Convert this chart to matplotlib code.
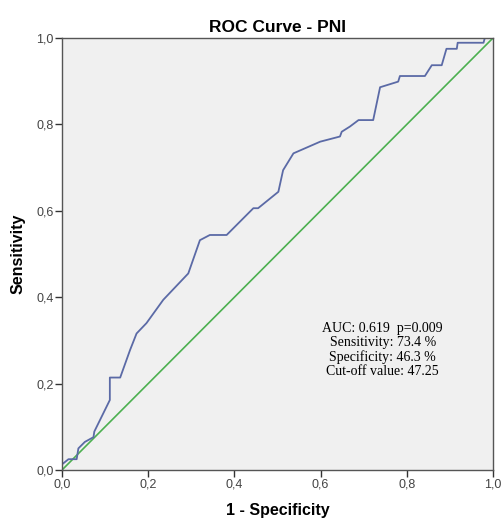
import matplotlib
matplotlib.use("Agg")
import matplotlib.pyplot as plt

# ROC curve points (1 - specificity, sensitivity)
fpr = [0.0, 0.0, 0.015, 0.034, 0.038, 0.053, 0.073, 0.075, 0.111, 0.111, 0.135,
       0.158, 0.173, 0.196, 0.235, 0.293, 0.32, 0.343, 0.382, 0.444, 0.455,
       0.502, 0.513, 0.537, 0.599, 0.645, 0.649, 0.668, 0.688, 0.722, 0.738,
       0.78, 0.784, 0.842, 0.858, 0.881, 0.892, 0.916, 0.918, 0.978, 0.981, 1.0]
tpr = [0.0, 0.013, 0.025, 0.025, 0.05, 0.065, 0.076, 0.089, 0.162, 0.214, 0.214,
       0.278, 0.316, 0.34, 0.394, 0.455, 0.532, 0.544, 0.544, 0.606, 0.606,
       0.644, 0.694, 0.733, 0.76, 0.772, 0.783, 0.795, 0.81, 0.81, 0.886,
       0.899, 0.912, 0.912, 0.937, 0.937, 0.975, 0.975, 0.989, 0.989, 1.0, 1.0]
ticks = [0.0, 0.2, 0.4, 0.6, 0.8, 1.0]
tick_labels = ["0,0", "0,2", "0,4", "0,6", "0,8", "1,0"]
note = "AUC: 0.619  p=0.009\nSensitivity: 73.4 %\nSpecificity: 46.3 %\nCut-off value: 47.25"

plt.rcParams['font.family'] = ['Liberation Sans', 'DejaVu Sans']

fig = plt.figure(figsize=(5.02, 5.21), dpi=100)
ax = fig.add_axes([62/502, 51/521, 431/502, 432/521])
ax.set_facecolor('#f0f0f0')

ax.plot([0, 1], [0, 1], color='#4cb050', lw=1.2)
ax.plot(fpr, tpr, color='#5b6aa6', lw=1.3)

ax.set_xlim(0, 1)
ax.set_ylim(0, 1)
ax.set_xticks(ticks)
ax.set_xticklabels(tick_labels)
ax.set_yticks(ticks)
ax.set_yticklabels(tick_labels)
ax.tick_params(direction='out', length=5, width=1, color='#333333',
               labelsize=9, labelcolor='#444444', pad=1)
for s in ax.spines.values():
    s.set_color('#555555')
    s.set_linewidth(1)

ax.set_title("ROC Curve - PNI", fontsize=12.5, fontweight='bold', pad=4)
ax.set_xlabel("1 - Specificity", fontsize=11.5, fontweight='bold', labelpad=9)
ax.set_ylabel("Sensitivity", fontsize=11.5, fontweight='bold', labelpad=8)

ax.text(0.744, 0.343, note, transform=ax.transAxes, ha='center', va='top',
        fontsize=10, family='Liberation Serif', linespacing=1.1)

fig.savefig("out.png", dpi=100)
